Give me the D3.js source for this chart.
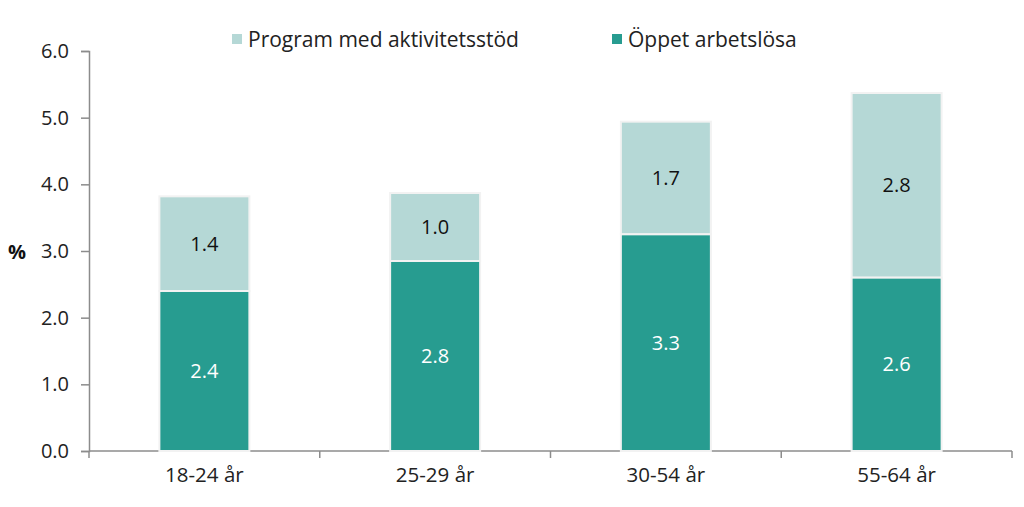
<!DOCTYPE html>
<html><head><meta charset="utf-8">
<script src="https://cdn.jsdelivr.net/npm/d3@7"></script>
<style>
body{margin:0;background:#fff;}
text{font-family:"Open Sans","Noto Sans",sans-serif;}
</style></head>
<body><svg id="c" width="1024" height="507"></svg>
<script>
const categories = ["18-24 år","25-29 år","30-54 år","55-64 år"];
const oppet = [2.4, 2.85, 3.25, 2.6];
const program = [1.42, 1.02, 1.69, 2.77];
const oppetLabels = ["2.4","2.8","3.3","2.6"];
const programLabels = ["1.4","1.0","1.7","2.8"];
const yTicks = [0,1,2,3,4,5,6];
const seriesNames = ["Program med aktivitetsstöd","Öppet arbetslösa"];

(function(){
const svg = d3.select("#c");
const mLeft = 89, mRight = 1012, mTop = 51, mBottom = 451;
const x = d3.scaleBand().domain(categories).range([mLeft,mRight]).paddingInner(0.61).paddingOuter(0.305);
const y = d3.scaleLinear().domain([0,6]).range([mBottom,mTop]);
const dark = "#279c90", light = "#b5d8d6";

const yAxis = d3.axisLeft(y).tickValues(yTicks).tickFormat(d3.format(".1f")).tickSize(8).tickPadding(12);
const gy = svg.append("g").attr("transform",`translate(${mLeft},0)`).call(yAxis);
gy.select(".domain").attr("stroke","#8c8c8c").attr("stroke-width",1.5);
gy.selectAll(".tick line").attr("stroke","#8c8c8c").attr("stroke-width",1.5);
gy.selectAll(".tick text").attr("font-size",20).attr("fill","#222");

const bw = x.step();
const boundaries = categories.map((c,i)=>mLeft + i*bw).concat([mRight]);
const gx = svg.append("g");
gx.append("line").attr("x1",mLeft).attr("x2",mRight).attr("y1",mBottom).attr("y2",mBottom).attr("stroke","#8c8c8c").attr("stroke-width",1.5);
gx.selectAll("line.t").data(boundaries).enter().append("line").attr("class","t")
  .attr("x1",d=>d).attr("x2",d=>d).attr("y1",mBottom).attr("y2",mBottom+7).attr("stroke","#8c8c8c").attr("stroke-width",1.5);
gx.selectAll("text").data(categories).enter().append("text")
  .attr("x",d=>x(d)+x.bandwidth()/2).attr("y",mBottom+31).attr("text-anchor","middle")
  .attr("font-size",20.5).attr("fill","#222").text(d=>d);

const g = svg.append("g");
categories.forEach((c,i)=>{
  const x0 = x(c), w = x.bandwidth();
  g.append("rect").attr("x",x0).attr("width",w).attr("y",y(oppet[i]+program[i])).attr("height",y(oppet[i])-y(oppet[i]+program[i]))
    .attr("fill",light).attr("stroke","#f2f2f2").attr("stroke-width",2);
  g.append("rect").attr("x",x0).attr("width",w).attr("y",y(oppet[i])).attr("height",y(0)-y(oppet[i]))
    .attr("fill",dark).attr("stroke","#f2f2f2").attr("stroke-width",2);
  g.append("text").attr("x",x0+w/2).attr("y",(y(0)+y(oppet[i]))/2+7).attr("text-anchor","middle")
    .attr("font-size",20).attr("fill","#fff").text(oppetLabels[i]);
  g.append("text").attr("x",x0+w/2).attr("y",(y(oppet[i])+y(oppet[i]+program[i]))/2+7).attr("text-anchor","middle")
    .attr("font-size",20).attr("fill","#111").text(programLabels[i]);
});

svg.append("text").attr("x",17).attr("y",259).attr("text-anchor","middle").attr("font-size",20).attr("font-weight","bold").attr("fill","#111").text("%");

const leg = [{n:seriesNames[0],c:light,x:232},{n:seriesNames[1],c:dark,x:612}];
leg.forEach(l=>{
  svg.append("rect").attr("x",l.x).attr("y",34).attr("width",10).attr("height",10).attr("fill",l.c);
  svg.append("text").attr("x",l.x+16).attr("y",47).attr("font-size",21).attr("fill","#222").text(l.n);
});
})();
</script></body></html>
